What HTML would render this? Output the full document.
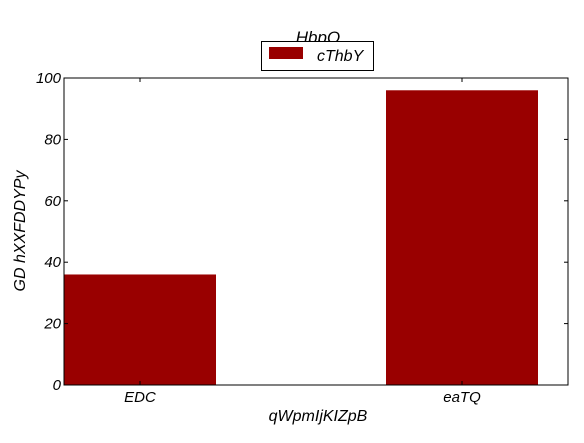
<!DOCTYPE html>
<html><head><meta charset="utf-8"><style>
body{margin:0;background:#fff;}
svg text{font-family:"Liberation Sans",sans-serif;font-style:italic;fill:#000;}
</style></head><body>
<svg width="584" height="438">
<text x="318" y="43" font-size="17" text-anchor="middle">HbpQ</text>
<g id="plot"></g>
<rect x="64" y="78" width="504" height="307" fill="none" stroke="#000" stroke-width="1"/>
<g>
<rect x="261.5" y="41.5" width="112" height="29" fill="#fff" stroke="#000"/>
<rect x="269" y="47" width="34" height="12" fill="#990000"/>
<text x="317" y="61" font-size="16">cThbY</text>
</g>
<text x="318" y="421" font-size="16" text-anchor="middle">qWpmIjKIZpB</text>
<text transform="translate(25,231) rotate(-90)" font-size="16" text-anchor="middle">GD hXXFDDYPy</text>
</svg>
<script>
const categories=["EDC","eaTQ"];
const values=[36,96];
const yTicks=[0,20,40,60,80,100];
const NS="http://www.w3.org/2000/svg";
const L=64,R=568,T=78,B=385;
function xCenter(i){return 140+i*322;}
function y(v){return B-(v/100)*(B-T);}
const g=document.getElementById('plot');
function mk(t,a){const e=document.createElementNS(NS,t);for(const k in a)e.setAttribute(k,a[k]);g.appendChild(e);return e;}
categories.forEach((c,i)=>{
  const b=mk('rect',{x:xCenter(i)-76,y:y(values[i]),width:152,height:B-y(values[i]),fill:'#990000'});
  
  
  const t1=mk('line',{x1:xCenter(i),x2:xCenter(i),y1:B,y2:B-4,stroke:'#000'});
  
  
  const t2=mk('line',{x1:xCenter(i),x2:xCenter(i),y1:T,y2:T+4,stroke:'#000'});
  
  
  const l=mk('text',{x:xCenter(i),y:B+17,'font-size':15,'text-anchor':'middle'});
  l.textContent=c;
  
  
});
yTicks.forEach(v=>{
  const t1=mk('line',{x1:L,x2:L+4,y1:y(v),y2:y(v),stroke:'#000'});
  
  
  const t2=mk('line',{x1:R,x2:R-4,y1:y(v),y2:y(v),stroke:'#000'});
  
  
  const l=mk('text',{x:L-3,y:y(v)+5,'font-size':15,'text-anchor':'end'});
  l.textContent=v;
  
  
});
</script>
</body></html>
